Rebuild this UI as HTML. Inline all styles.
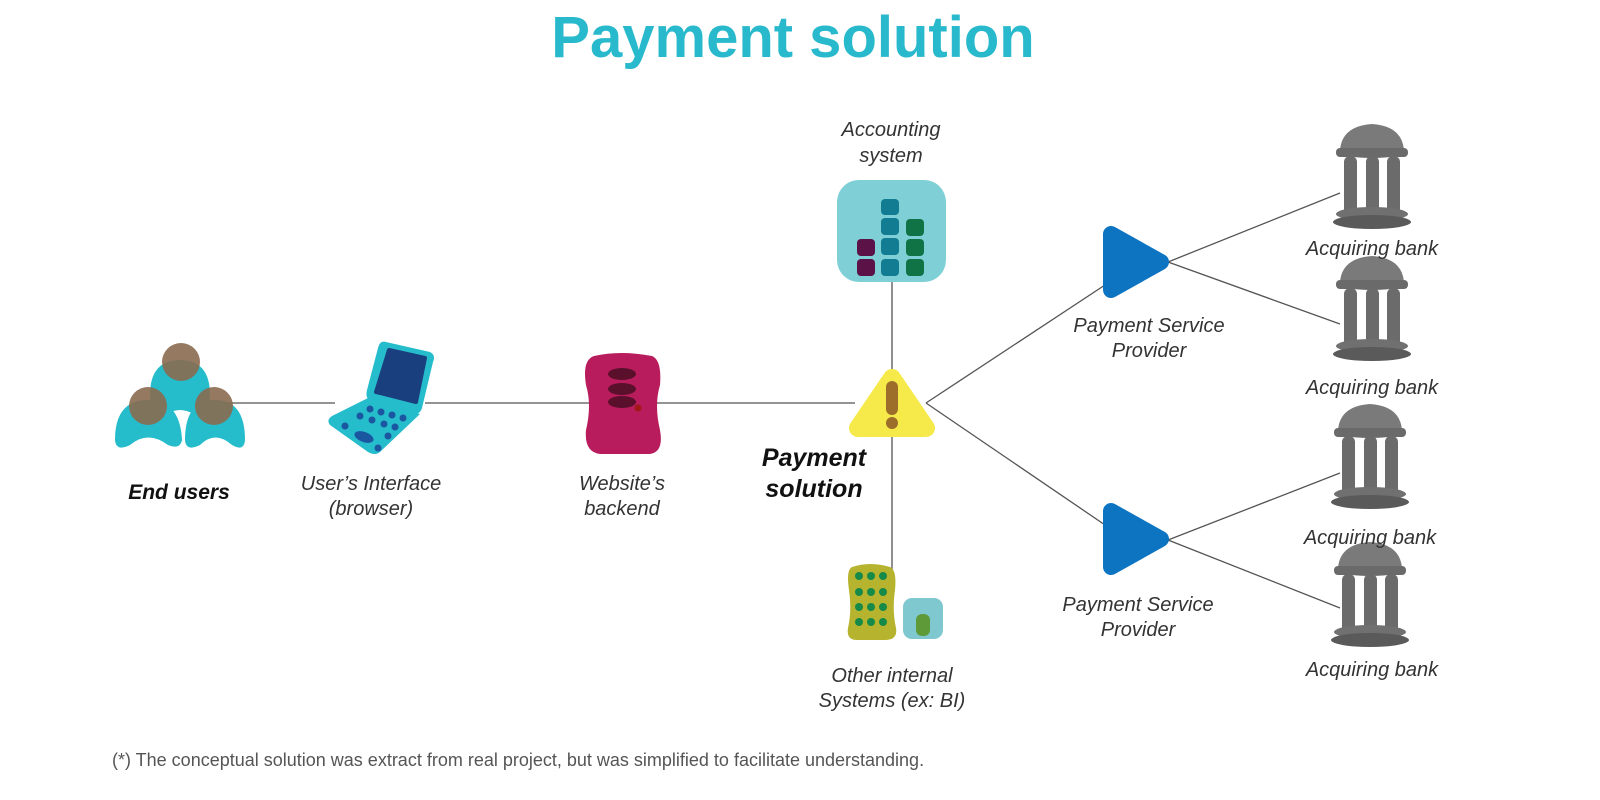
<!DOCTYPE html>
<html><head><style>
body{margin:0;width:1600px;height:800px;background:#fff;overflow:hidden;font-family:"Liberation Sans",sans-serif}
svg{position:absolute;left:0;top:0}
</style></head><body>
<svg width="1600" height="800" viewBox="0 0 1600 800">
<defs>
<g id="bank">
<ellipse cx="0" cy="-38" rx="34" ry="6" fill="#6e6e6e"/>
<path d="M-32,-40 Q-30,-64 0,-66 Q30,-64 32,-40 Z" fill="#7a7a7a"/>
<rect x="-36" y="-42" width="72" height="9" rx="4" fill="#6a6a6a"/>
<rect x="-28" y="-34" width="13" height="60" rx="6" fill="#6b6b6b"/>
<rect x="-6" y="-34" width="13" height="60" rx="6" fill="#6b6b6b"/>
<rect x="15" y="-34" width="13" height="60" rx="6" fill="#6b6b6b"/>
<ellipse cx="0" cy="24" rx="36" ry="7" fill="#707070"/>
<ellipse cx="0" cy="32" rx="39" ry="7" fill="#5a5a5a"/>
</g>
<g id="psp"><path d="M-12,-28 L38,0 L-12,28 Z" fill="#0c74c0" stroke="#0c74c0" stroke-width="16" stroke-linejoin="round"/></g>
</defs>
<text x="793" y="57" text-anchor="middle" font-size="58" font-weight="bold" fill="#29b9cc">Payment solution</text>
<g stroke="#555" stroke-width="1.3" fill="none">
<line x1="225" y1="403" x2="335" y2="403"/>
<line x1="425" y1="403" x2="590" y2="403"/>
<line x1="655" y1="403" x2="855" y2="403"/>
<line x1="892" y1="270" x2="892" y2="372"/>
<line x1="892" y1="432" x2="892" y2="572"/>
<line x1="926" y1="403" x2="1108" y2="283"/>
<line x1="926" y1="403" x2="1108" y2="527"/>
<line x1="1168" y1="262" x2="1340" y2="193"/>
<line x1="1168" y1="262" x2="1340" y2="324"/>
<line x1="1168" y1="540" x2="1340" y2="473"/>
<line x1="1168" y1="540" x2="1340" y2="608"/>
</g>
<!-- end users -->
<g>
<path d="M150,395 Q150,360 180,360 Q210,360 210,395 Q208,418 195,415 Q180,405 165,415 Q152,418 150,395Z" fill="#25bccc"/>
<path d="M115,440 Q115,400 148,400 Q180,400 182,440 Q180,450 168,445 Q148,430 130,445 Q116,452 115,440Z" fill="#25bccc"/>
<path d="M185,440 Q185,400 215,400 Q245,400 245,440 Q244,452 232,445 Q215,430 200,445 Q186,452 185,440Z" fill="#25bccc"/>
<circle cx="181" cy="362" r="19" fill="#8b6a50" opacity="0.9"/>
<circle cx="148" cy="406" r="19" fill="#8b6a50" opacity="0.9"/>
<circle cx="214" cy="406" r="19" fill="#8b6a50" opacity="0.9"/>
</g>
<!-- laptop -->
<g>
<path d="M386,342 L430,352 Q436,355 433,362 L422,408 Q420,415 412,414 L370,400 Q365,398 367,390 L378,348 Q380,340 386,342Z" fill="#25bccc"/>
<path d="M389,350 L425,358 L416,402 L376,392 Z" fill="#1a3f7e" stroke="#1a3f7e" stroke-linejoin="round" stroke-width="4"/>
<path d="M368,398 L420,414 L380,452 Q375,456 368,452 L330,425 Q326,420 332,416 Z" fill="#25bccc"/>
<g fill="#1b56a0">
<circle cx="370" cy="409" r="3.5"/><circle cx="381" cy="412" r="3.5"/><circle cx="392" cy="415" r="3.5"/><circle cx="403" cy="418" r="3.5"/>
<circle cx="360" cy="416" r="3.5"/><circle cx="372" cy="420" r="3.5"/><circle cx="384" cy="424" r="3.5"/><circle cx="395" cy="427" r="3.5"/>
<circle cx="345" cy="426" r="3.5"/><circle cx="388" cy="436" r="3.5"/><circle cx="378" cy="448" r="3.5"/>
<ellipse cx="364" cy="437" rx="10" ry="5" transform="rotate(20 364 437)"/>
</g>
</g>
<!-- backend -->
<g>
<path d="M594,356 Q620,350 652,356 Q662,360 660,385 Q654,405 660,430 Q664,452 650,454 L600,454 Q584,452 586,430 Q592,405 586,385 Q582,360 594,356Z" fill="#b91c5c"/>
<ellipse cx="622" cy="374" rx="14" ry="6" fill="#5a0f2b"/>
<ellipse cx="622" cy="389" rx="14" ry="6" fill="#5a0f2b"/>
<ellipse cx="622" cy="402" rx="14" ry="6" fill="#5a0f2b"/>
<circle cx="638" cy="408" r="3.5" fill="#a01818"/>
</g>
<!-- warning -->
<g>
<path d="M892,378 L926,428 L858,428 Z" fill="#f6ea4a" stroke="#f6ea4a" stroke-width="18" stroke-linejoin="round"/>
<rect x="886" y="381" width="12" height="34" rx="6" fill="#9c6e2a"/>
<circle cx="892" cy="423" r="6" fill="#9c6e2a"/>
</g>
<!-- accounting -->
<g>
<rect x="837" y="180" width="109" height="102" rx="22" fill="#7fd0d6"/>
<g fill="#127d92">
<rect x="881" y="199" width="18" height="16" rx="4"/><rect x="881" y="218" width="18" height="17" rx="4"/><rect x="881" y="238" width="18" height="17" rx="4"/><rect x="881" y="259" width="18" height="17" rx="4"/></g>
<g fill="#107346"><rect x="906" y="219" width="18" height="17" rx="4"/><rect x="906" y="239" width="18" height="17" rx="4"/><rect x="906" y="259" width="18" height="17" rx="4"/></g>
<g fill="#5a1247"><rect x="857" y="239" width="18" height="17" rx="4"/><rect x="857" y="259" width="18" height="17" rx="4"/></g>
</g>
<!-- other internal -->
<g>
<path d="M852,567 Q870,561 890,567 Q897,570 895,590 Q892,610 896,628 Q898,640 885,640 L857,640 Q846,640 848,628 Q852,610 849,590 Q846,570 852,567Z" fill="#b6b42e"/>
<g fill="#168a48">
<circle cx="859" cy="576" r="4"/><circle cx="871" cy="576" r="4"/><circle cx="883" cy="576" r="4"/>
<circle cx="859" cy="592" r="4"/><circle cx="871" cy="592" r="4"/><circle cx="883" cy="592" r="4"/>
<circle cx="859" cy="607" r="4"/><circle cx="871" cy="607" r="4"/><circle cx="883" cy="607" r="4"/>
<circle cx="859" cy="622" r="4"/><circle cx="871" cy="622" r="4"/><circle cx="883" cy="622" r="4"/>
</g>
<rect x="903" y="598" width="40" height="41" rx="9" fill="#7fc8d0"/>
<rect x="916" y="614" width="14" height="22" rx="6" fill="#5e9a38"/>
</g>
<use href="#psp" x="1123" y="262"/>
<use href="#psp" x="1123" y="539"/>
<use href="#bank" x="1372" y="190"/>
<use href="#bank" x="1372" y="322"/>
<use href="#bank" x="1370" y="470"/>
<use href="#bank" x="1370" y="608"/>
<g font-size="20" font-style="italic" fill="#333" text-anchor="middle">
<text x="891" y="136">Accounting</text><text x="891" y="162">system</text>
<text x="371" y="490">User’s Interface</text><text x="371" y="515">(browser)</text>
<text x="622" y="490">Website’s</text><text x="622" y="515">backend</text>
<text x="1149" y="332">Payment Service</text><text x="1149" y="357">Provider</text>
<text x="1138" y="611">Payment Service</text><text x="1138" y="636">Provider</text>
<text x="892" y="682">Other internal</text><text x="892" y="707">Systems (ex: BI)</text>
<text x="1372" y="255">Acquiring bank</text>
<text x="1372" y="394">Acquiring bank</text>
<text x="1370" y="544">Acquiring bank</text>
<text x="1372" y="676">Acquiring bank</text>
</g>
<text x="179" y="499" text-anchor="middle" font-size="21" font-weight="bold" font-style="italic" fill="#111">End users</text>
<text x="814" y="466" text-anchor="middle" font-size="25" font-weight="bold" font-style="italic" fill="#111">Payment</text>
<text x="814" y="497" text-anchor="middle" font-size="25" font-weight="bold" font-style="italic" fill="#111">solution</text>
<text x="112" y="766" font-size="18" fill="#555">(*) The conceptual solution was extract from real project, but was simplified to facilitate understanding.</text>
</svg>
</body></html>
